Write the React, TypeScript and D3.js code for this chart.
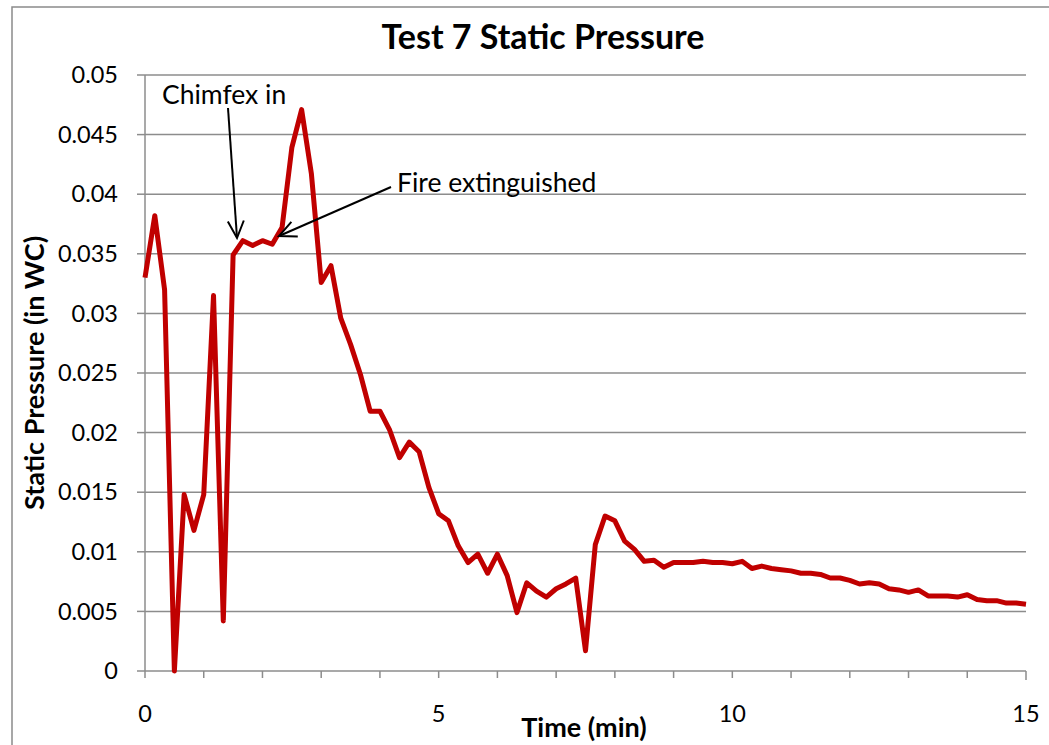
import React, { useEffect, useRef } from "react";
import * as d3 from "d3";

// Time in seconds (10 s sampling)
const timeSec: number[] = [
  0, 10, 20, 30, 40, 50, 60, 70, 80, 90,
  100, 110, 120, 130, 140, 150, 160, 170, 180, 190,
  200, 210, 220, 230, 240, 250, 260, 270, 280, 290,
  300, 310, 320, 330, 340, 350, 360, 370, 380, 390,
  400, 410, 420, 430, 440, 450, 460, 470, 480, 490,
  500, 510, 520, 530, 540, 550, 560, 570, 580, 590,
  600, 610, 620, 630, 640, 650, 660, 670, 680, 690,
  700, 710, 720, 730, 740, 750, 760, 770, 780, 790,
  800, 810, 820, 830, 840, 850, 860, 870, 880, 890,
  900,
];

// Static pressure (in WC)
const pressure: number[] = [
  0.0330, 0.0382, 0.0320, 0.0000, 0.0148, 0.0118, 0.0148, 0.0315, 0.0042, 0.0349,
  0.0361, 0.0357, 0.0361, 0.0358, 0.0372, 0.0439, 0.0471, 0.0417, 0.0326, 0.0340,
  0.0296, 0.0274, 0.0249, 0.0218, 0.0218, 0.0202, 0.0179, 0.0192, 0.0184, 0.0154,
  0.0132, 0.0126, 0.0105, 0.0091, 0.0098, 0.0082, 0.0098, 0.0080, 0.0049, 0.0074,
  0.0067, 0.0062, 0.0069, 0.0073, 0.0078, 0.0017, 0.0106, 0.0130, 0.0126, 0.0109,
  0.0102, 0.0092, 0.0093, 0.0087, 0.0091, 0.0091, 0.0091, 0.0092, 0.0091, 0.0091,
  0.0090, 0.0092, 0.0086, 0.0088, 0.0086, 0.0085, 0.0084, 0.0082, 0.0082, 0.0081,
  0.0078, 0.0078, 0.0076, 0.0073, 0.0074, 0.0073, 0.0069, 0.0068, 0.0066, 0.0068,
  0.0063, 0.0063, 0.0063, 0.0062, 0.0064, 0.0060, 0.0059, 0.0059, 0.0057, 0.0057,
  0.0056,
];

const xTickLabels: number[] = [0, 5, 10, 15];
const xMinorTicks: number[] = [0, 1, 2, 3, 4, 5, 6, 7, 8, 9, 10, 11, 12, 13, 14, 15];
const yTicks: number[] = [0, 0.005, 0.01, 0.015, 0.02, 0.025, 0.03, 0.035, 0.04, 0.045, 0.05];

const annotationLabels: string[] = ["Chimfex in", "Fire extinguished"];

const W = 1049;
const H = 745;
const FONT = "Lato, 'Open Sans', sans-serif";

export default function App() {
  const ref = useRef<SVGSVGElement>(null);

  useEffect(() => {
    document.body.style.margin = "0";
    const svg = d3.select(ref.current);
    svg.selectAll("*").remove();

    const left = 145, right = 1026, top = 75, bottom = 671;
    const x = d3.scaleLinear().domain([0, 15]).range([left, right]);
    const y = d3.scaleLinear().domain([0, 0.05]).range([bottom, top]);

    svg.append("rect").attr("width", W).attr("height", H).attr("fill", "#fff");
    // outer chart frame
    svg.append("rect")
      .attr("x", 12).attr("y", 7).attr("width", 1100).attr("height", 800)
      .attr("fill", "none").attr("stroke", "#8a8a8a").attr("stroke-width", 1.5);

    const grid = "#8c8c8c";
    svg.append("g").selectAll("line").data(yTicks.filter((d) => d > 0)).join("line")
      .attr("x1", left).attr("x2", right)
      .attr("y1", (d) => y(d)).attr("y2", (d) => y(d))
      .attr("stroke", grid).attr("stroke-width", 1.5);
    svg.append("g").selectAll("line").data(yTicks).join("line")
      .attr("x1", left - 8).attr("x2", left)
      .attr("y1", (d) => y(d)).attr("y2", (d) => y(d))
      .attr("stroke", grid).attr("stroke-width", 1.5);
    svg.append("line").attr("x1", left).attr("x2", left).attr("y1", top).attr("y2", bottom)
      .attr("stroke", grid).attr("stroke-width", 1.5);
    svg.append("line").attr("x1", left).attr("x2", right).attr("y1", bottom).attr("y2", bottom)
      .attr("stroke", grid).attr("stroke-width", 1.5);
    svg.append("g").selectAll("line").data(xMinorTicks).join("line")
      .attr("x1", (d) => x(d)).attr("x2", (d) => x(d))
      .attr("y1", bottom).attr("y2", (d) => bottom + (d === 15 ? 9 : 7))
      .attr("stroke", grid).attr("stroke-width", 1.5);

    svg.append("g").selectAll("text").data(yTicks).join("text")
      .attr("x", 118).attr("y", (d) => y(d))
      .attr("dy", "0.35em")
      .attr("text-anchor", "end")
      .attr("font-family", FONT).attr("font-size", 23.5).attr("fill", "#000")
      .text((d) => String(+d.toFixed(3)));
    svg.append("g").selectAll("text").data(xTickLabels).join("text")
      .attr("x", (d) => x(d)).attr("y", 722)
      .attr("text-anchor", "middle")
      .attr("font-family", FONT).attr("font-size", 23.5).attr("fill", "#000")
      .text((d) => String(d));

    svg.append("text").attr("x", 543).attr("y", 49).attr("text-anchor", "middle")
      .attr("font-family", FONT).attr("font-weight", "bold").attr("font-size", 34)
      .text("Test 7 Static Pressure");
    svg.append("text").attr("x", 584).attr("y", 737).attr("text-anchor", "middle")
      .attr("font-family", FONT).attr("font-weight", "bold").attr("font-size", 27)
      .text("Time (min)");
    svg.append("text")
      .attr("transform", "translate(44,373) rotate(-90)")
      .attr("text-anchor", "middle")
      .attr("font-family", FONT).attr("font-weight", "bold").attr("font-size", 27)
      .text("Static Pressure (in WC)");

    const pts = timeSec.map((t, i) => [t / 60, pressure[i]] as [number, number]);
    const line = d3.line<[number, number]>().x((d) => x(d[0])).y((d) => y(d[1]));
    svg.append("path").attr("d", line(pts) as string)
      .attr("fill", "none").attr("stroke", "#C00000").attr("stroke-width", 5)
      .attr("stroke-linejoin", "round");

    const defs = svg.append("defs");
    defs.append("marker").attr("id", "arr")
      .attr("markerUnits", "userSpaceOnUse")
      .attr("viewBox", "0 0 22 22").attr("markerWidth", 22).attr("markerHeight", 22)
      .attr("refX", 20).attr("refY", 11).attr("orient", "auto")
      .append("path").attr("d", "M3,3 L20,11 L3,19")
      .attr("fill", "none").attr("stroke", "#000").attr("stroke-width", 2);

    svg.append("text").attr("x", 162).attr("y", 104)
      .attr("font-family", FONT).attr("font-size", 26.5).text(annotationLabels[0]);
    svg.append("line").attr("x1", 228).attr("y1", 108).attr("x2", 237).attr("y2", 238)
      .attr("stroke", "#000").attr("stroke-width", 2).attr("marker-end", "url(#arr)");
    svg.append("text").attr("x", 397).attr("y", 192)
      .attr("font-family", FONT).attr("font-size", 26.5).text(annotationLabels[1]);
    svg.append("line").attr("x1", 391).attr("y1", 187).attr("x2", 279).attr("y2", 236)
      .attr("stroke", "#000").attr("stroke-width", 2).attr("marker-end", "url(#arr)");
  }, []);

  return (
    <svg ref={ref} width={W} height={H} style={{ display: "block" }} />
  );
}
